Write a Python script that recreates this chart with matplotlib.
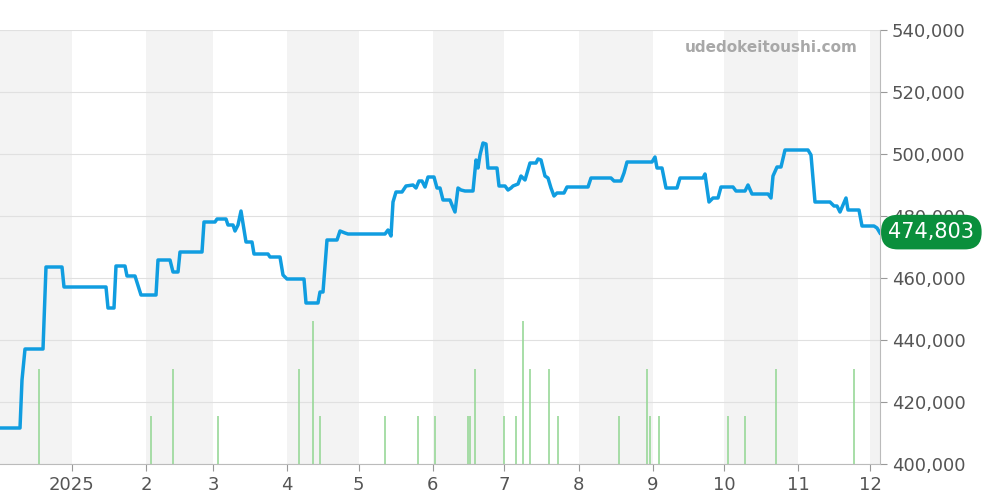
import matplotlib
matplotlib.use("Agg")
import matplotlib.pyplot as plt
import numpy as np

# x in days relative to 2025-01-01 (derived from chart pixels), y in JPY
line_px = [0,20,22,25,43,46,62,64,106,108,114,116,125,127,135,141,156,158,170,173,178,180,202,204,215,217,226,228,233,235,238,241,246,252,254,268,270,280,283,287,304,306,318,320,323,327,337,340,345,348,385,388,391,393,396,402,406,413,416,419,422,425,428,434,437,440,443,450,452,455,458,461,465,473,476,478,480,483,486,488,497,499,505,508,511,513,518,521,525,530,536,538,541,545,548,551,554,557,564,567,588,591,611,614,621,624,627,652,655,657,662,666,677,680,703,705,709,713,718,721,733,736,745,748,752,768,771,773,777,781,785,808,811,815,830,834,837,840,846,848,852,859,862,874,877,880]
line_py = [428,428,380,349,349,267,267,287,287,308,308,266,266,276,276,295,295,260,260,272,272,252,252,222,222,219,219,225,225,231,225,211,242,242,254,254,257,257,275,279,279,303,303,292,292,240,240,231,233,234,234,230,236,202,192,192,186,185,188,181,181,187,177,177,188,188,200,200,205,212,188,190,191,191,160,168,155,143,144,168,168,186,186,190,188,186,184,176,180,163,163,159,160,176,178,188,196,193,193,187,187,178,178,181,181,173,162,162,157,168,168,188,188,178,178,174,202,198,198,187,187,191,191,185,194,194,198,176,167,167,150,150,155,202,202,206,206,212,198,210,210,210,226,226,228,233]
bar_px = [39,151,173,218,299,313,320,385,418,435,468,470,475,504,516,523,530,549,558,619,647,650,659,728,745,776,854]
bar_vol = [2,1,2,1,2,3,1,1,1,1,1,1,2,1,1,3,2,2,1,1,2,1,1,1,1,2,2]
last_value = 474803
month_labels = ["2025","2","3","4","5","6","7","8","9","10","11","12"]

PXD = (870-72)/334.0
def px2d(p): return (np.asarray(p, float)-72)/PXD
def py2v(p): return 400000 + (464-np.asarray(p, float))*20000/62.0

x_line = px2d(line_px); y_line = py2v(line_py)
x_bar = px2d(bar_px)
bar_top = [400000 + v*15400 for v in bar_vol]

month_start = [0,31,59,90,120,151,181,212,243,273,304,334]
xmin, xmax = px2d(0), px2d(880)

fig = plt.figure(figsize=(10,5), dpi=100)
ax = fig.add_axes([0, 0.072, 0.88, 0.868])
ax.set_xlim(xmin, xmax); ax.set_ylim(400000, 540000)

bands = [(xmin,0),(31,59),(90,120),(151,181),(212,243),(273,304),(334,xmax)]
for a,b in bands:
    ax.axvspan(a,b,color="#f3f3f3",zorder=0,lw=0)
ax.yaxis.grid(True,color="#e0e0e0",lw=0.8,zorder=1)
ax.vlines(x_bar,400000,bar_top,color="#98d898",lw=1.2,zorder=2)
ax.plot(x_line,y_line,color="#109de0",lw=2.5,zorder=3)

ax.yaxis.tick_right()
ax.set_yticks(range(400000,540001,20000))
ax.set_yticklabels([f"{v:,}" for v in range(400000,540001,20000)],fontsize=13,color="#555")
ax.set_xticks(month_start); ax.set_xticklabels(month_labels,fontsize=13,color="#555")
ax.tick_params(axis="both",length=5,color="#999")
for s in ["top","left"]: ax.spines[s].set_visible(False)
ax.spines["right"].set_color("#bbb"); ax.spines["bottom"].set_color("#bbb")

ax.text(0.975,0.96,"udedokeitoushi.com",transform=ax.transAxes,ha="right",va="center",
        fontsize=11,fontweight="bold",color="#a8a8a8")
ax.annotate(f"{last_value:,}",xy=(1.0,last_value),xycoords=("axes fraction","data"),
            xytext=(6,0),textcoords="offset points",ha="left",va="center",fontsize=15,color="white",
            bbox=dict(boxstyle="round,pad=0.35,rounding_size=0.8",fc="#0a8f3c",ec="none"),zorder=10,annotation_clip=False)
fig.savefig("out.png",dpi=100)
